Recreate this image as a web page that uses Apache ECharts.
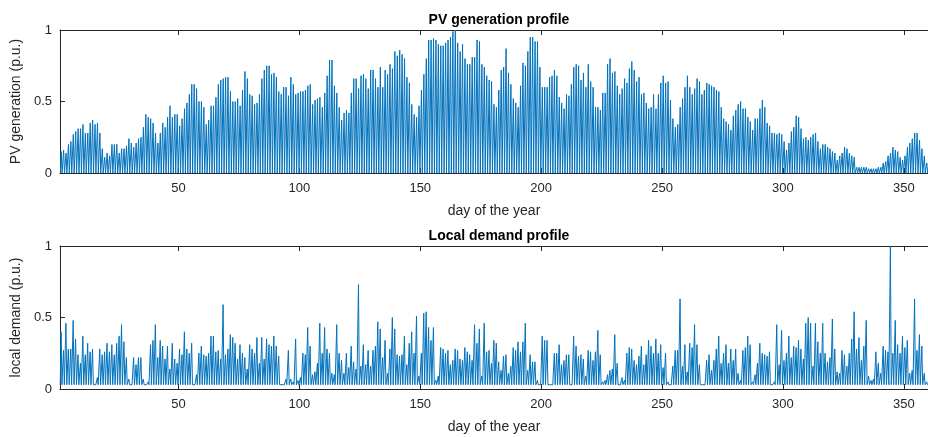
<!DOCTYPE html>
<html><head><meta charset="utf-8">
<script src="https://cdn.jsdelivr.net/npm/echarts@6/dist/echarts.min.js"></script>
<style>html,body{margin:0;padding:0;background:#fff}#c{width:928px;height:437px}</style>
</head><body><div id="c"></div>
<script>
// daily peak of PV generation (p.u.), days 1..360
const pvPeak = [
0.15,0.16,0.14,0.2,0.22,0.27,0.29,0.31,0.31,0.34,
0.28,0.28,0.35,0.37,0.34,0.35,0.28,0.17,0.11,0.14,
0.12,0.2,0.2,0.2,0.14,0.17,0.17,0.19,0.24,0.21,
0.18,0.21,0.24,0.25,0.32,0.41,0.39,0.38,0.35,0.28,
0.21,0.28,0.35,0.32,0.39,0.47,0.39,0.41,0.41,0.33,
0.38,0.45,0.49,0.55,0.62,0.62,0.59,0.5,0.5,0.46,
0.34,0.37,0.47,0.47,0.53,0.62,0.65,0.66,0.67,0.67,
0.57,0.5,0.5,0.52,0.47,0.58,0.71,0.66,0.55,0.54,
0.48,0.49,0.55,0.66,0.72,0.75,0.75,0.69,0.7,0.67,
0.57,0.55,0.6,0.6,0.54,0.67,0.62,0.55,0.56,0.57,
0.57,0.58,0.61,0.62,0.48,0.51,0.52,0.53,0.46,0.56,
0.68,0.79,0.79,0.61,0.56,0.46,0.37,0.42,0.44,0.42,
0.56,0.66,0.66,0.59,0.68,0.69,0.66,0.59,0.72,0.72,
0.66,0.6,0.74,0.6,0.72,0.69,0.76,0.73,0.85,0.82,
0.86,0.83,0.8,0.67,0.63,0.48,0.41,0.39,0.47,0.58,
0.69,0.8,0.93,0.93,0.94,0.93,0.9,0.89,0.89,0.91,
0.93,0.95,0.99,1.0,0.91,0.85,0.9,0.8,0.76,0.76,
0.81,0.81,0.93,0.92,0.76,0.74,0.68,0.65,0.64,0.48,
0.46,0.58,0.72,0.74,0.87,0.7,0.62,0.52,0.49,0.46,
0.61,0.77,0.75,0.85,0.95,0.95,0.92,0.92,0.74,0.6,
0.6,0.6,0.67,0.68,0.72,0.68,0.53,0.49,0.45,0.55,
0.54,0.62,0.74,0.76,0.75,0.65,0.7,0.6,0.76,0.64,
0.6,0.46,0.46,0.44,0.56,0.56,0.76,0.8,0.7,0.71,
0.61,0.55,0.59,0.66,0.63,0.73,0.78,0.72,0.64,0.67,
0.55,0.56,0.49,0.45,0.46,0.55,0.45,0.55,0.63,0.68,
0.63,0.64,0.51,0.38,0.32,0.34,0.46,0.52,0.6,0.68,
0.6,0.55,0.59,0.66,0.64,0.55,0.58,0.63,0.62,0.61,
0.6,0.58,0.57,0.46,0.38,0.36,0.34,0.3,0.4,0.44,
0.48,0.5,0.45,0.45,0.39,0.36,0.3,0.38,0.38,0.45,
0.51,0.46,0.35,0.33,0.28,0.28,0.27,0.28,0.27,0.22,
0.16,0.21,0.29,0.32,0.4,0.39,0.31,0.24,0.25,0.23,
0.25,0.27,0.28,0.22,0.17,0.2,0.2,0.18,0.17,0.15,
0.14,0.09,0.12,0.14,0.18,0.17,0.14,0.12,0.11,0.04,
0.04,0.04,0.04,0.04,0.03,0.03,0.03,0.03,0.04,0.04,
0.07,0.08,0.12,0.14,0.18,0.16,0.15,0.11,0.09,0.12,
0.18,0.21,0.24,0.28,0.28,0.23,0.17,0.12,0.07,0.07];
const pvNight = 0;

// daily peak of local demand (p.u.), days 1..360
const demandPeak = [
0.4,0.27,0.46,0.28,0.28,0.48,0.35,0.24,0.18,0.37,
0.24,0.32,0.26,0.28,0.04,0.08,0.28,0.24,0.26,0.32,
0.26,0.31,0.24,0.32,0.37,0.45,0.33,0.22,0.07,0.04,
0.22,0.17,0.22,0.22,0.07,0.03,0.05,0.31,0.34,0.45,
0.22,0.34,0.3,0.21,0.3,0.14,0.32,0.21,0.18,0.28,
0.24,0.4,0.28,0.25,0.32,0.03,0.1,0.25,0.3,0.24,
0.23,0.25,0.37,0.37,0.26,0.27,0.21,0.59,0.24,0.28,
0.38,0.36,0.32,0.21,0.31,0.25,0.22,0.14,0.31,0.28,
0.25,0.36,0.18,0.36,0.21,0.35,0.31,0.3,0.37,0.3,
0.23,0.04,0.03,0.07,0.27,0.07,0.05,0.35,0.06,0.08,
0.25,0.24,0.43,0.3,0.1,0.12,0.18,0.46,0.25,0.43,
0.28,0.25,0.11,0.1,0.45,0.25,0.2,0.11,0.25,0.15,
0.3,0.19,0.14,0.73,0.16,0.31,0.17,0.27,0.16,0.27,
0.3,0.47,0.42,0.22,0.34,0.11,0.28,0.5,0.42,0.24,
0.23,0.24,0.37,0.17,0.32,0.4,0.25,0.51,0.09,0.25,
0.53,0.54,0.43,0.34,0.43,0.06,0.09,0.29,0.28,0.25,
0.27,0.17,0.2,0.28,0.27,0.21,0.2,0.29,0.26,0.24,
0.2,0.45,0.32,0.42,0.09,0.46,0.26,0.27,0.18,0.34,
0.32,0.19,0.13,0.23,0.24,0.11,0.16,0.29,0.27,0.33,
0.26,0.33,0.46,0.13,0.24,0.19,0.19,0.06,0.04,0.37,
0.34,0.34,0.04,0.04,0.25,0.25,0.31,0.17,0.2,0.24,
0.24,0.04,0.37,0.3,0.23,0.24,0.21,0.09,0.27,0.26,
0.2,0.26,0.41,0.24,0.05,0.06,0.1,0.13,0.14,0.38,
0.18,0.04,0.08,0.06,0.25,0.29,0.28,0.2,0.17,0.23,
0.3,0.17,0.24,0.34,0.3,0.25,0.35,0.25,0.31,0.15,
0.25,0.05,0.04,0.16,0.27,0.27,0.63,0.16,0.31,0.12,
0.32,0.29,0.45,0.31,0.17,0.04,0.04,0.2,0.24,0.13,
0.2,0.28,0.37,0.18,0.25,0.31,0.18,0.28,0.2,0.28,
0.11,0.06,0.27,0.29,0.37,0.31,0.05,0.1,0.18,0.32,
0.25,0.24,0.23,0.26,0.04,0.05,0.45,0.17,0.41,0.2,
0.25,0.37,0.22,0.3,0.29,0.34,0.28,0.21,0.46,0.5,
0.46,0.16,0.46,0.33,0.25,0.46,0.25,0.19,0.22,0.49,
0.28,0.12,0.11,0.27,0.24,0.16,0.25,0.35,0.54,0.28,
0.36,0.2,0.3,0.48,0.09,0.06,0.07,0.26,0.18,0.11,
0.3,0.27,0.26,1.0,0.25,0.48,0.31,0.25,0.37,0.29,
0.34,0.11,0.13,0.63,0.27,0.38,0.3,0.11,0.05,0.04];
const demandNight = 0.03;

const xTicks = [50, 100, 150, 200, 250, 300, 350];
const yTicks = [0, 0.5, 1];

function pvSeries() {
  const out = [];
  pvPeak.forEach((p, i) => {
    const d = i + 1;
    out.push([d + 0.15, pvNight], [d + 0.5, p], [d + 0.85, pvNight]);
  });
  return out;
}
function demandSeries() {
  const out = [];
  demandPeak.forEach((p, i) => {
    const d = i + 1;
    out.push([d + 0.1, demandNight], [d + 0.45, p], [d + 0.8, demandNight]);
  });
  return out;
}

const BLUE = '#0072BD';
const AX = '#262626';
const FONT = 'Liberation Sans, Arial, Helvetica, sans-serif';

function xAxes(gi) {
  const base = {
    gridIndex: gi, type: 'value', min: 1, max: 360,
    axisLine: {show: true, onZero: false, lineStyle: {color: AX, width: 1}},
    splitLine: {show: false},
    axisTick: {show: true, inside: true, length: 5, customValues: xTicks, lineStyle: {color: AX}},
  };
  return [
    Object.assign({}, base, {
      position: 'bottom',
      axisLabel: {show: true, customValues: xTicks, color: AX, fontSize: 13, fontFamily: FONT, margin: 9},
      name: 'day of the year', nameLocation: 'middle', nameGap: 31,
      nameTextStyle: {color: AX, fontSize: 14, fontFamily: FONT}
    }),
    Object.assign({}, base, {position: 'top', axisLabel: {show: false}})
  ];
}
function yAxes(gi, name) {
  const base = {
    gridIndex: gi, type: 'value', min: 0, max: 1, interval: 0.5,
    axisLine: {show: true, lineStyle: {color: AX, width: 1}},
    splitLine: {show: false},
    axisTick: {show: true, inside: true, length: 5, lineStyle: {color: AX}},
  };
  return [
    Object.assign({}, base, {
      position: 'left',
      axisLabel: {show: true, color: AX, fontSize: 13, fontFamily: FONT, margin: 8,
        formatter: v => yTicks.includes(v) ? String(v) : ''},
      name: name, nameLocation: 'middle', nameGap: 20,
      nameTextStyle: {color: AX, fontSize: 14, fontFamily: FONT}
    }),
    Object.assign({}, base, {position: 'right', axisLabel: {show: false},
      axisLine: {show: false}, axisTick: {show: false}})
  ];
}

const chart = echarts.init(document.getElementById('c'), null, {renderer: 'canvas'});
chart.setOption({
  animation: false,
  backgroundColor: '#fff',
  title: [
    {text: 'PV generation profile', left: 494, top: 8, textAlign: 'center',
     textStyle: {fontSize: 14, fontWeight: 'bold', color: '#000', fontFamily: FONT}},
    {text: 'Local demand profile', left: 494, top: 224, textAlign: 'center',
     textStyle: {fontSize: 14, fontWeight: 'bold', color: '#000', fontFamily: FONT}}
  ],
  grid: [
    {left: 60, top: 30, right: 0, height: 143},
    {left: 60, top: 246, right: 0, height: 143}
  ],
  xAxis: [...xAxes(0), ...xAxes(1)],
  yAxis: [...yAxes(0, 'PV generation (p.u.)'), ...yAxes(1, 'local demand (p.u.)')],
  series: [
    {type: 'line', xAxisIndex: 0, yAxisIndex: 0, data: pvSeries(), showSymbol: false,
     sampling: null, lineStyle: {color: BLUE, width: 1}, itemStyle: {color: BLUE}},
    {type: 'line', xAxisIndex: 2, yAxisIndex: 2, data: demandSeries(), showSymbol: false,
     sampling: null, lineStyle: {color: BLUE, width: 1}, itemStyle: {color: BLUE}}
  ]
});
</script>
</body></html>
